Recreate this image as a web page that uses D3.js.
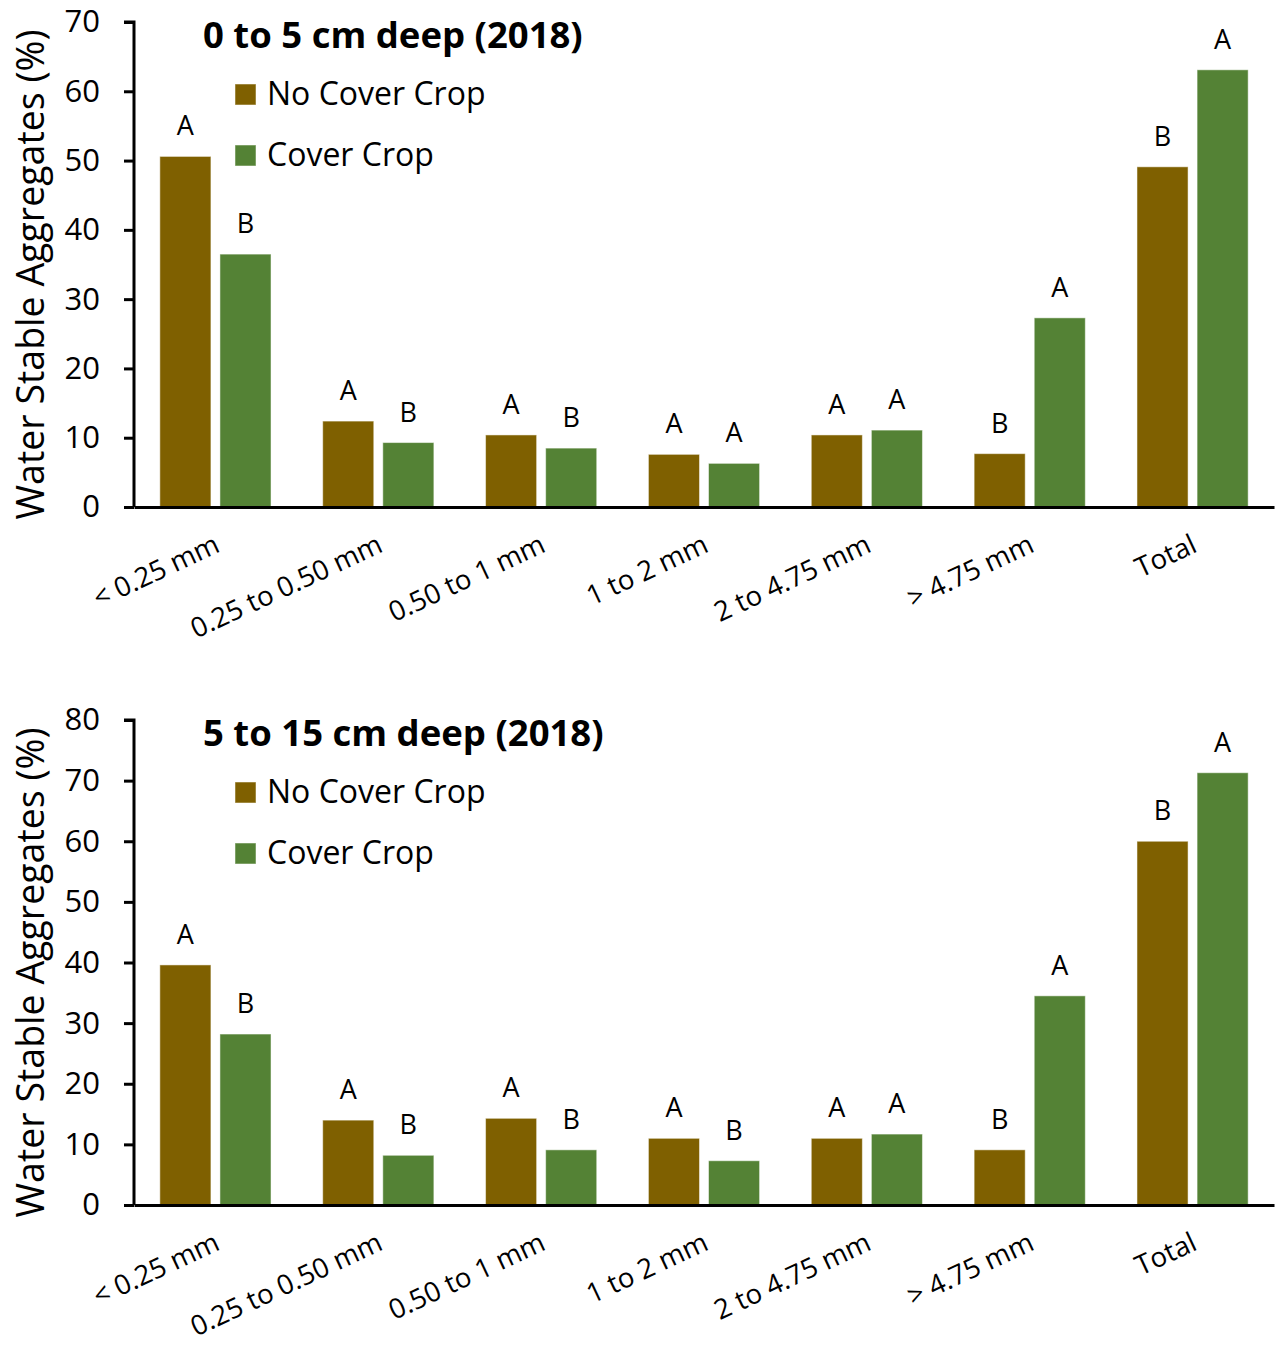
<!DOCTYPE html>
<html>
<head>
<meta charset="utf-8">
<script src="https://cdn.jsdelivr.net/npm/d3@7"></script>
<style>
  body { margin: 0; background: #fff; }
  svg text { font-family: "Open Sans", sans-serif; fill: #000; }
</style>
</head>
<body>
<div id="chart"></div>
<script>
// categories and series
const sizeClasses = ["< 0.25 mm", "0.25 to 0.50 mm", "0.50 to 1 mm", "1 to 2 mm", "2 to 4.75 mm", "> 4.75 mm", "Total"];
const seriesNames = ["No Cover Crop", "Cover Crop"];

// 0 to 5 cm
const shallowNoCover = [50.6, 12.4, 10.4, 7.6, 10.4, 7.7, 49.1];
const shallowCover   = [36.5, 9.3, 8.5, 6.3, 11.1, 27.3, 63.1];
const shallowLetterNo = ["A", "A", "A", "A", "A", "B", "B"];
const shallowLetterCc = ["B", "B", "B", "A", "A", "A", "A"];
const shallowTicks = [0, 10, 20, 30, 40, 50, 60, 70];

// 5 to 15 cm
const deepNoCover = [39.6, 14.0, 14.3, 11.0, 11.0, 9.1, 60.0];
const deepCover   = [28.2, 8.2, 9.1, 7.3, 11.7, 34.5, 71.3];
const deepLetterNo = ["A", "A", "A", "A", "A", "B", "B"];
const deepLetterCc = ["B", "B", "B", "B", "A", "A", "A"];
const deepTicks = [0, 10, 20, 30, 40, 50, 60, 70, 80];

const colors = ["#7f6000", "#548235"];

const svg = d3.select("#chart").append("svg")
  .attr("width", 1276)
  .attr("height", 1346);

function drawPanel(top, title, noCover, cover, lettersNo, lettersCc, ticks, yMax) {
  const margin = {left: 134, right: 2};
  const height = 485;
  const g = svg.append("g").attr("transform", "translate(0," + top + ")");

  const x = d3.scaleBand()
    .range([margin.left, 1276 - margin.right])
    .domain(sizeClasses)
    .padding(0);
  // two bars per size class
  const xs = d3.scaleBand()
    .range([0, x.bandwidth()])
    .domain([0, 1])
    .paddingInner(0.15)
    .paddingOuter(0.43);
  const y = d3.scaleLinear()
    .range([height, 0])
    .domain([0, yMax]);

  const rows = sizeClasses.map((c, i) => ({
    cat: c,
    vals: [noCover[i], cover[i]],
    letters: [lettersNo[i], lettersCc[i]]
  }));

  const grp = g.selectAll(".grp")
    .data(rows)
    .enter()
    .append("g")
      .attr("transform", d => "translate(" + x(d.cat) + ",0)");

  grp.selectAll("rect")
    .data(d => d.vals.map((v, k) => ({v: v, k: k})))
    .enter()
    .append("rect")
      .attr("x", d => xs(d.k))
      .attr("y", d => y(d.v))
      .attr("width", xs.bandwidth())
      .attr("height", d => y(0) - y(d.v))
      .style("fill", d => colors[d.k])
      .style("stroke", "#ffffff")
      .style("stroke-opacity", 0.5)
      .style("stroke-width", 1);

  grp.selectAll(".letter")
    .data(d => d.vals.map((v, k) => ({v: v, k: k, t: d.letters[k]})))
    .enter()
    .append("text")
      .attr("x", d => xs(d.k) + xs.bandwidth() / 2)
      .attr("y", d => y(d.v) - 21)
      .attr("text-anchor", "middle")
      .style("font-size", "27px")
      .text(d => d.t);

  // y axis
  const yAxis = g.append("g")
    .attr("transform", "translate(" + margin.left + ",0)")
    .call(d3.axisLeft(y).tickValues(ticks).tickSize(10).tickPadding(24).tickFormat(d3.format("d")));
  yAxis.select(".domain").attr("stroke-width", 3).attr("d", "M-10,0H0V" + height);
  yAxis.selectAll(".tick line").attr("stroke-width", 3);
  yAxis.selectAll(".tick text")
    .style("font-size", "31px")
    .style("font-family", "'Open Sans', sans-serif");

  // x axis
  const xAxis = g.append("g")
    .attr("transform", "translate(0," + height + ")")
    .call(d3.axisBottom(x).tickSize(0).tickPadding(0));
  xAxis.select(".domain").attr("stroke-width", 3);
  xAxis.selectAll(".tick text")
    .attr("text-anchor", "end")
    .attr("dy", 0)
    .attr("transform", "translate(6,44) rotate(-25)")
    .style("font-size", "27.5px")
    .style("font-family", "'Open Sans', sans-serif");

  // y title
  g.append("text")
    .attr("transform", "translate(44," + (height / 2 + 10) + ") rotate(-90)")
    .attr("text-anchor", "middle")
    .style("font-size", "37.5px")
    .text("Water Stable Aggregates (%)");

  // title
  g.append("text")
    .attr("x", 203)
    .attr("y", 26)
    .style("font-size", "36.5px")
    .style("font-weight", "bold")
    .text(title);

  // legend
  const leg = g.selectAll(".leg")
    .data(seriesNames)
    .enter()
    .append("g")
      .attr("transform", (d, i) => "translate(235," + (62 + i * 61) + ")");
  leg.append("rect")
    .attr("width", 21)
    .attr("height", 21)
    .style("fill", (d, i) => colors[i])
    .style("stroke", "#ffffff")
    .style("stroke-opacity", 0.5);
  leg.append("text")
    .attr("x", 32)
    .attr("y", 21)
    .style("font-size", "32px")
    .text(d => d);
}

drawPanel(22, "0 to 5 cm deep (2018)", shallowNoCover, shallowCover, shallowLetterNo, shallowLetterCc, shallowTicks, 70);
drawPanel(720, "5 to 15 cm deep (2018)", deepNoCover, deepCover, deepLetterNo, deepLetterCc, deepTicks, 80);
</script>
</body>
</html>
